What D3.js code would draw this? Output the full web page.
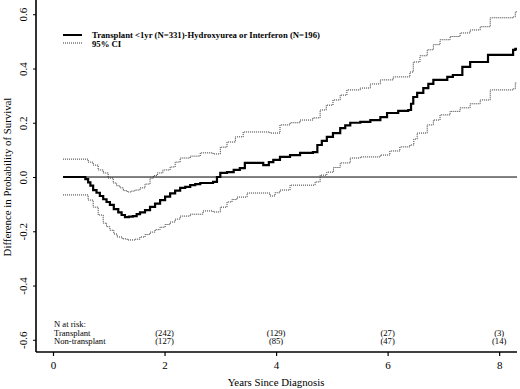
<!DOCTYPE html>
<html>
<head>
<meta charset="utf-8">
<script src="https://cdn.jsdelivr.net/npm/d3@7"></script>
<style>
  body { margin: 0; background: #fff; }
  text { font-family: "Liberation Serif", "Times New Roman", serif; fill: #000; }
</style>
</head>
<body>
<div id="chart"></div>
<script>
// DATA (years since diagnosis, difference in survival)
const estimate = [
  [0.18, 0], [0.54, 0], [0.58, -0.008], [0.63, -0.02], [0.67, -0.032], [0.72, -0.048],
  [0.78, -0.058], [0.84, -0.07], [0.90, -0.082], [0.96, -0.092], [1.02, -0.103],
  [1.09, -0.118], [1.17, -0.13], [1.23, -0.14], [1.29, -0.148], [1.36, -0.146],
  [1.43, -0.144], [1.50, -0.137], [1.56, -0.13], [1.65, -0.122], [1.74, -0.11],
  [1.83, -0.098], [1.92, -0.085], [2.01, -0.072], [2.10, -0.06], [2.19, -0.05],
  [2.28, -0.04], [2.37, -0.036], [2.46, -0.03], [2.55, -0.026], [2.64, -0.022],
  [2.87, -0.018], [2.94, 0.0], [3.0, 0.015], [3.12, 0.018], [3.24, 0.026], [3.35, 0.033],
  [3.44, 0.052], [3.59, 0.052], [3.77, 0.044], [3.87, 0.055], [3.95, 0.063],
  [4.07, 0.074], [4.25, 0.081], [4.43, 0.089], [4.66, 0.092], [4.74, 0.118],
  [4.82, 0.133], [4.91, 0.148], [5.02, 0.162], [5.15, 0.18], [5.24, 0.19], [5.33, 0.2],
  [5.51, 0.203], [5.69, 0.21], [5.87, 0.221], [5.99, 0.236], [6.19, 0.244],
  [6.37, 0.247], [6.42, 0.27], [6.46, 0.295], [6.53, 0.31], [6.64, 0.328],
  [6.73, 0.343], [6.82, 0.358], [7.07, 0.369], [7.17, 0.376], [7.34, 0.406],
  [7.48, 0.424], [7.80, 0.45], [8.25, 0.469], [8.29, 0.472], [8.32, 0.472]
];
const upperCI = [
  [0.18, 0.066], [0.54, 0.066], [0.63, 0.055], [0.72, 0.044], [0.81, 0.026],
  [0.90, 0.015], [0.99, -0.004], [1.08, -0.022], [1.14, -0.032], [1.20, -0.04],
  [1.26, -0.05], [1.33, -0.055], [1.40, -0.052], [1.47, -0.048], [1.56, -0.04],
  [1.65, -0.026], [1.74, -0.004], [1.80, 0.005], [1.87, 0.015], [1.97, 0.026],
  [2.10, 0.037], [2.19, 0.055], [2.28, 0.07], [2.46, 0.077], [2.64, 0.089],
  [2.87, 0.085], [3.0, 0.11], [3.12, 0.129], [3.27, 0.148], [3.41, 0.166],
  [3.71, 0.166], [3.89, 0.162], [4.07, 0.192], [4.25, 0.2], [4.43, 0.21],
  [4.66, 0.218], [4.79, 0.247], [4.90, 0.265], [5.02, 0.284], [5.15, 0.302],
  [5.27, 0.321], [5.51, 0.328], [5.69, 0.343], [5.87, 0.358], [6.10, 0.369],
  [6.40, 0.387], [6.46, 0.424], [6.58, 0.447], [6.71, 0.469], [6.82, 0.488],
  [6.94, 0.506], [7.12, 0.518], [7.30, 0.531], [7.48, 0.542], [7.66, 0.554],
  [7.84, 0.587], [8.25, 0.59], [8.29, 0.609], [8.32, 0.609]
];
const lowerCI = [
  [0.18, -0.066], [0.54, -0.066], [0.63, -0.085], [0.72, -0.111], [0.81, -0.14],
  [0.90, -0.17], [0.96, -0.183], [1.02, -0.196], [1.09, -0.21], [1.15, -0.221],
  [1.24, -0.228], [1.33, -0.232], [1.47, -0.229], [1.56, -0.221], [1.65, -0.212],
  [1.74, -0.203], [1.83, -0.194], [1.92, -0.185], [2.01, -0.175], [2.10, -0.166],
  [2.19, -0.155], [2.28, -0.144], [2.46, -0.137], [2.69, -0.125], [2.87, -0.129],
  [3.0, -0.111], [3.12, -0.092], [3.21, -0.083], [3.30, -0.074], [3.48, -0.059],
  [3.71, -0.059], [3.89, -0.07], [3.98, -0.058], [4.07, -0.048], [4.25, -0.03],
  [4.70, -0.018], [4.79, 0.007], [4.91, 0.018], [5.03, 0.035], [5.15, 0.052],
  [5.33, 0.07], [5.51, 0.074], [5.87, 0.081], [6.04, 0.096], [6.22, 0.111],
  [6.40, 0.118], [6.47, 0.14], [6.53, 0.162], [6.71, 0.192], [6.82, 0.21],
  [6.94, 0.229], [7.12, 0.242], [7.30, 0.255], [7.48, 0.27], [7.66, 0.284],
  [7.84, 0.321], [8.25, 0.325], [8.29, 0.347], [8.32, 0.347]
];
const xTicks = [0, 2, 4, 6, 8];
const yTicks = [-0.6, -0.4, -0.2, 0.0, 0.2, 0.4, 0.6];
const riskTransplant = ["(242)", "(129)", "(27)", "(3)"];
const riskNonTransplant = ["(127)", "(85)", "(47)", "(14)"];
const riskTimes = [2, 4, 6, 8];
const legendLabels = ["Transplant <1yr (N=331)-Hydroxyurea or Interferon (N=196)", "95% CI"];

// CANVAS
const WIDTH = 520, HEIGHT = 389;
const svg = d3.select("#chart").append("svg")
  .attr("width", WIDTH)
  .attr("height", HEIGHT);

// SCALE
const x = d3.scaleLinear().domain([-0.305, 8.32]).range([36, 517]);
const y = d3.scaleLinear().domain([-0.645, 0.6525]).range([352, 0]);

// AXIS
svg.append("g")
  .attr("transform", `translate(0, ${y(-0.645)})`)
  .call(d3.axisBottom(x).tickValues(xTicks).tickSize(4).tickPadding(5).tickFormat((d) => String(d)))
  .call((g) => {
    g.select(".domain").attr("stroke-width", 1.6).attr("d", `M36,0H517`);
    g.selectAll(".tick line").attr("stroke-width", 1.2);
    g.selectAll(".tick text").attr("font-size", 11).style("font-family", "Liberation Serif");
  });

svg.append("g")
  .attr("transform", `translate(${x(-0.305)}, 0)`)
  .call(d3.axisLeft(y).tickValues(yTicks).tickSize(3).tickFormat((d) => d.toFixed(1)))
  .call((g) => {
    g.select(".domain").attr("stroke-width", 1.6).attr("d", `M0,0V352`);
    g.selectAll(".tick text")
      .attr("font-size", 11)
      .style("font-family", "Liberation Serif")
      .attr("x", 0)
      .attr("dy", 0)
      .attr("text-anchor", "middle")
      .attr("transform", "translate(-9,0) rotate(-90)");
  });

// LABEL
svg.append("text")
  .attr("x", 276)
  .attr("y", 386)
  .attr("text-anchor", "middle")
  .attr("font-size", 10.8)
  .text("Years Since Diagnosis");

svg.append("text")
  .attr("transform", `translate(11, ${y(0)}) rotate(-90)`)
  .attr("text-anchor", "middle")
  .attr("font-size", 10.8)
  .text("Difference in Probability of Survival");

// ELEMENTS
svg.append("line")
  .attr("x1", x(0.18)).attr("x2", x(8.32))
  .attr("y1", y(0)).attr("y2", y(0))
  .attr("stroke", "#000")
  .attr("stroke-width", 1);

const step = d3.line()
  .x((d) => x(d[0]))
  .y((d) => y(d[1]))
  .curve(d3.curveStepAfter);

[upperCI, lowerCI].forEach((ci) => {
  svg.append("path")
    .datum(ci)
    .attr("d", step)
    .attr("fill", "none")
    .attr("stroke", "#333")
    .attr("stroke-width", 1)
    .attr("stroke-dasharray", "1,1");
});

svg.append("path")
  .datum(estimate)
  .attr("d", step)
  .attr("fill", "none")
  .attr("stroke", "#000")
  .attr("stroke-width", 2.2);

// LEGEND
const legend = svg.append("g");
legend.append("line")
  .attr("x1", 63).attr("x2", 82).attr("y1", 35).attr("y2", 35)
  .attr("stroke", "#000").attr("stroke-width", 2);
legend.append("line")
  .attr("x1", 63).attr("x2", 82).attr("y1", 43).attr("y2", 43)
  .attr("stroke", "#333").attr("stroke-width", 1).attr("stroke-dasharray", "1,1");
legend.selectAll("text.leg")
  .data(legendLabels)
  .enter()
  .append("text")
  .attr("class", "leg")
  .attr("x", 92)
  .attr("y", (d, i) => 38 + i * 8.5)
  .attr("font-size", 8.7)
  .attr("font-weight", "bold")
  .text((d) => d);

// N AT RISK
const risk = svg.append("g");
risk.append("text").attr("x", 54).attr("y", 327).attr("font-size", 8.6).text("N at risk:");
risk.append("text").attr("x", 54).attr("y", 335.5).attr("font-size", 8.6).text("Transplant");
risk.append("text").attr("x", 54).attr("y", 344).attr("font-size", 8.6).text("Non-transplant");
risk.selectAll("text.rt")
  .data(riskTransplant)
  .enter()
  .append("text")
  .attr("class", "rt")
  .attr("x", (d, i) => x(riskTimes[i]))
  .attr("y", 335.5)
  .attr("text-anchor", "middle")
  .attr("font-size", 8.6)
  .text((d) => d);
risk.selectAll("text.rn")
  .data(riskNonTransplant)
  .enter()
  .append("text")
  .attr("class", "rn")
  .attr("x", (d, i) => x(riskTimes[i]))
  .attr("y", 344)
  .attr("text-anchor", "middle")
  .attr("font-size", 8.6)
  .text((d) => d);
</script>
</body>
</html>
